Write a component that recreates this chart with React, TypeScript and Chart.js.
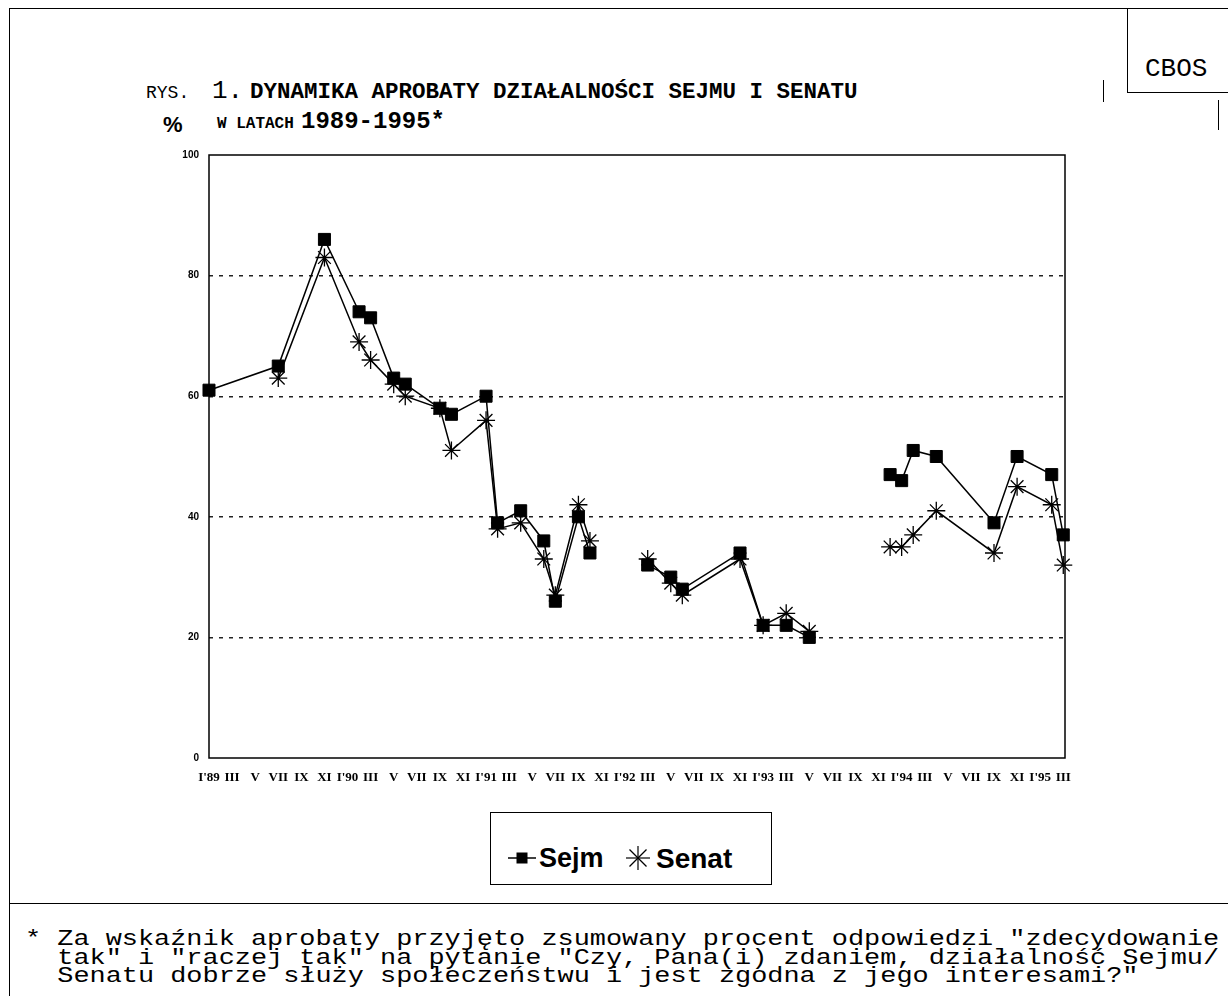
import React, { useEffect, useRef } from 'react';
import { Chart, registerables } from 'chart.js';

Chart.register(...registerables);

// x axis: months since January 1989, a tick every two months
const tickMonths = [0, 2, 4, 6, 8, 10, 12, 14, 16, 18, 20, 22, 24, 26, 28, 30, 32, 34, 36, 38, 40, 42, 44, 46, 48, 50, 52, 54, 56, 58, 60, 62, 64, 66, 68, 70, 72, 74];
const tickLabels = [
  "I'89", 'III', 'V', 'VII', 'IX', 'XI',
  "I'90", 'III', 'V', 'VII', 'IX', 'XI',
  "I'91", 'III', 'V', 'VII', 'IX', 'XI',
  "I'92", 'III', 'V', 'VII', 'IX', 'XI',
  "I'93", 'III', 'V', 'VII', 'IX', 'XI',
  "I'94", 'III', 'V', 'VII', 'IX', 'XI',
  "I'95", 'III',
];
const yTicks = [0, 20, 40, 60, 80, 100];

// survey months (null values = no survey -> break in the line)
const months = [0, 6, 10, 13, 14, 16, 17, 20, 21, 24, 25, 27, 29, 30, 32, 33, 35, 38, 40, 41, 46, 48, 50, 52, 55, 59, 60, 61, 63, 68, 70, 73, 74];
const sejmValues = [61, 65, 86, 74, 73, 63, 62, 58, 57, 60, 39, 41, 36, 26, 40, 34, null, 32, 30, 28, 34, 22, 22, 20, null, 47, 46, 51, 50, 39, 50, 47, 37];
const senatValues = [null, 63, 83, 69, 66, 62, 60, 58, 51, 56, 38, 39, 33, 27, 42, 36, null, 33, 29, 27, 33, 22, 24, 21, null, 35, 35, 37, 41, 34, 45, 42, 32];

const seriesNames = ['Sejm', 'Senat'];

const framePlugin = {
  id: 'frame',
  beforeDatasetsDraw(chart: any) {
    const { ctx, chartArea } = chart;
    const { left, top, right, bottom } = chartArea;
    ctx.save();
    ctx.strokeStyle = '#000';
    ctx.lineWidth = 1.5;
    ctx.strokeRect(left, top, right - left, bottom - top);
    ctx.restore();
  },
};

function ChartCanvas() {
  const ref = useRef<HTMLCanvasElement | null>(null);
  useEffect(() => {
    if (!ref.current) return;
    const chart = new Chart(ref.current, {
      type: 'line',
      data: {
        datasets: [
          {
            label: seriesNames[0],
            data: months.map((m, i) => ({ x: m, y: sejmValues[i] })) as any,
            borderColor: '#000',
            backgroundColor: '#000',
            borderWidth: 1.5,
            pointStyle: 'rect',
            pointRadius: 8.5,
            pointBorderWidth: 1,
            pointBackgroundColor: '#000',
            pointBorderColor: '#000',
            spanGaps: false,
            clip: false as any,
            order: 2,
          },
          {
            label: seriesNames[1],
            data: months.map((m, i) => ({ x: m, y: senatValues[i] })) as any,
            borderColor: '#000',
            backgroundColor: '#000',
            borderWidth: 1.5,
            pointStyle: 'star',
            pointRadius: 9,
            pointBorderWidth: 1.3,
            pointBackgroundColor: '#000',
            pointBorderColor: '#000',
            spanGaps: false,
            clip: false as any,
            order: 1,
          },
        ],
      },
      options: {
        animation: false,
        responsive: false,
        maintainAspectRatio: false,
        layout: { padding: { left: 0, right: 15, top: 15, bottom: 0 } },
        plugins: { legend: { display: false }, tooltip: { enabled: false } },
        scales: {
          x: {
            type: 'linear',
            min: 0,
            max: 74.15,
            grid: { display: false },
            border: { display: false },
            afterBuildTicks: (s: any) => {
              s.ticks = tickMonths.map((v) => ({ value: v }));
            },
            afterFit: (s: any) => {
              s.height = 32;
              s.paddingLeft = 0;
              s.paddingRight = 0;
            },
            ticks: {
              autoSkip: false,
              maxRotation: 0,
              minRotation: 0,
              padding: 4,
              color: '#000',
              font: { family: 'Liberation Serif', weight: 'bold', size: 13 },
              callback: (_v: any, i: number) => tickLabels[i],
            },
          },
          y: {
            min: 0,
            max: 100,
            grid: {
              drawTicks: false,
              color: (c: any) => (c.tick && (c.tick.value === 0 || c.tick.value === 100) ? 'rgba(0,0,0,0)' : '#222'),
              lineWidth: 1.4,
            },
            border: { display: false, dash: [4, 6] },
            afterBuildTicks: (s: any) => {
              s.ticks = yTicks.map((v) => ({ value: v }));
            },
            afterFit: (s: any) => {
              s.width = 59;
              s.paddingTop = 0;
              s.paddingBottom = 0;
            },
            ticks: {
              padding: 10,
              color: '#000',
              font: { family: 'Liberation Sans', weight: 'bold', size: 10 },
              callback: (v: any) => String(v),
            },
          },
        },
      },
      plugins: [framePlugin],
    } as any);
    return () => chart.destroy();
  }, []);
  return (
    <canvas
      ref={ref}
      width={930}
      height={650}
      style={{ position: 'absolute', left: 150, top: 140, width: 930, height: 650 }}
    />
  );
}

const line = (style: React.CSSProperties) => <div style={{ position: 'absolute', ...style }} />;

export default function App() {
  const mono = '"Liberation Mono", "Courier New", monospace';
  const sans = '"Liberation Sans", Arial, sans-serif';
  return (
    <div
      style={{
        position: 'absolute',
        left: 0,
        top: 0,
        width: 1228,
        height: 996,
        background: '#fff',
        overflow: 'hidden',
        color: '#000',
      }}
    >
      {/* page frame */}
      {line({ left: 9, top: 8, width: 1219, height: 0, borderTop: '1.5px solid #000' })}
      {line({ left: 9, top: 8, width: 0, height: 988, borderLeft: '1.5px solid #000' })}
      {line({ left: 9, top: 903, width: 1219, height: 0, borderTop: '1.5px solid #000' })}
      {/* CBOS box */}
      {line({ left: 1127, top: 8, width: 101, height: 84, borderLeft: '1.5px solid #000', borderBottom: '1.5px solid #000' })}
      <div style={{ position: 'absolute', left: 1145, top: 56, fontFamily: mono, fontSize: 26, lineHeight: 1, whiteSpace: 'pre' }}>CBOS</div>
      {line({ left: 1103, top: 80, width: 0, height: 22, borderLeft: '1px solid #000' })}
      {line({ left: 1218, top: 100, width: 0, height: 30, borderLeft: '1px solid #000' })}

      {/* title */}
      <div style={{ position: 'absolute', left: 146, top: 84, fontFamily: mono, fontSize: 18, lineHeight: 1, whiteSpace: 'pre' }}>RYS.</div>
      <div style={{ position: 'absolute', left: 212, top: 78, fontFamily: mono, fontSize: 26, lineHeight: 1, whiteSpace: 'pre' }}>1.</div>
      <div style={{ position: 'absolute', left: 250, top: 81, fontFamily: mono, fontSize: 22.5, fontWeight: 'bold', lineHeight: 1, whiteSpace: 'pre' }}>
        DYNAMIKA APROBATY DZIAŁALNOŚCI SEJMU I SENATU
      </div>
      <div style={{ position: 'absolute', left: 163, top: 114, fontFamily: sans, fontSize: 22, fontWeight: 'bold', lineHeight: 1 }}>%</div>
      <div style={{ position: 'absolute', left: 217, top: 116, fontFamily: mono, fontSize: 16, fontWeight: 'bold', lineHeight: 1, whiteSpace: 'pre' }}>W LATACH</div>
      <div style={{ position: 'absolute', left: 301, top: 110, fontFamily: mono, fontSize: 24, fontWeight: 'bold', lineHeight: 1, whiteSpace: 'pre' }}>1989-1995*</div>

      <ChartCanvas />

      {/* legend */}
      <div style={{ position: 'absolute', left: 490, top: 812, width: 282, height: 73, border: '1px solid #000', boxSizing: 'border-box' }}>
        <svg style={{ position: 'absolute', left: 17, top: 35 }} width="28" height="20">
          <line x1="0" y1="10" x2="28" y2="10" stroke="#000" strokeWidth="1.5" />
          <rect x="8.5" y="4.5" width="11" height="11" fill="#000" />
        </svg>
        <div style={{ position: 'absolute', left: 48, top: 32, fontFamily: sans, fontWeight: 'bold', fontSize: 27, lineHeight: 1 }}>{seriesNames[0]}</div>
        <svg style={{ position: 'absolute', left: 134, top: 32 }} width="26" height="26">
          <line x1="1" y1="13" x2="25" y2="13" stroke="#000" strokeWidth="1.2" />
          <line x1="13" y1="1" x2="13" y2="25" stroke="#000" strokeWidth="1.2" />
          <line x1="4.5" y1="4.5" x2="21.5" y2="21.5" stroke="#000" strokeWidth="1.2" />
          <line x1="21.5" y1="4.5" x2="4.5" y2="21.5" stroke="#000" strokeWidth="1.2" />
        </svg>
        <div style={{ position: 'absolute', left: 165, top: 32, fontFamily: sans, fontWeight: 'bold', fontSize: 28, lineHeight: 1 }}>{seriesNames[1]}</div>
      </div>

      {/* footnote */}
      <div
        style={{
          position: 'absolute',
          left: 25,
          top: 930,
          fontFamily: mono,
          fontSize: 26.9,
          lineHeight: '23.2px',
          whiteSpace: 'pre',
          transform: 'scaleY(0.82)',
          transformOrigin: 'top left',
        }}
      >
        {'* Za wskaźnik aprobaty przyjęto zsumowany procent odpowiedzi "zdecydowanie\n' +
          '  tak" i "raczej tak" na pytanie "Czy, Pana(i) zdaniem, działalność Sejmu/\n' +
          '  Senatu dobrze służy społeczeństwu i jest zgodna z jego interesami?"'}
      </div>
    </div>
  );
}
